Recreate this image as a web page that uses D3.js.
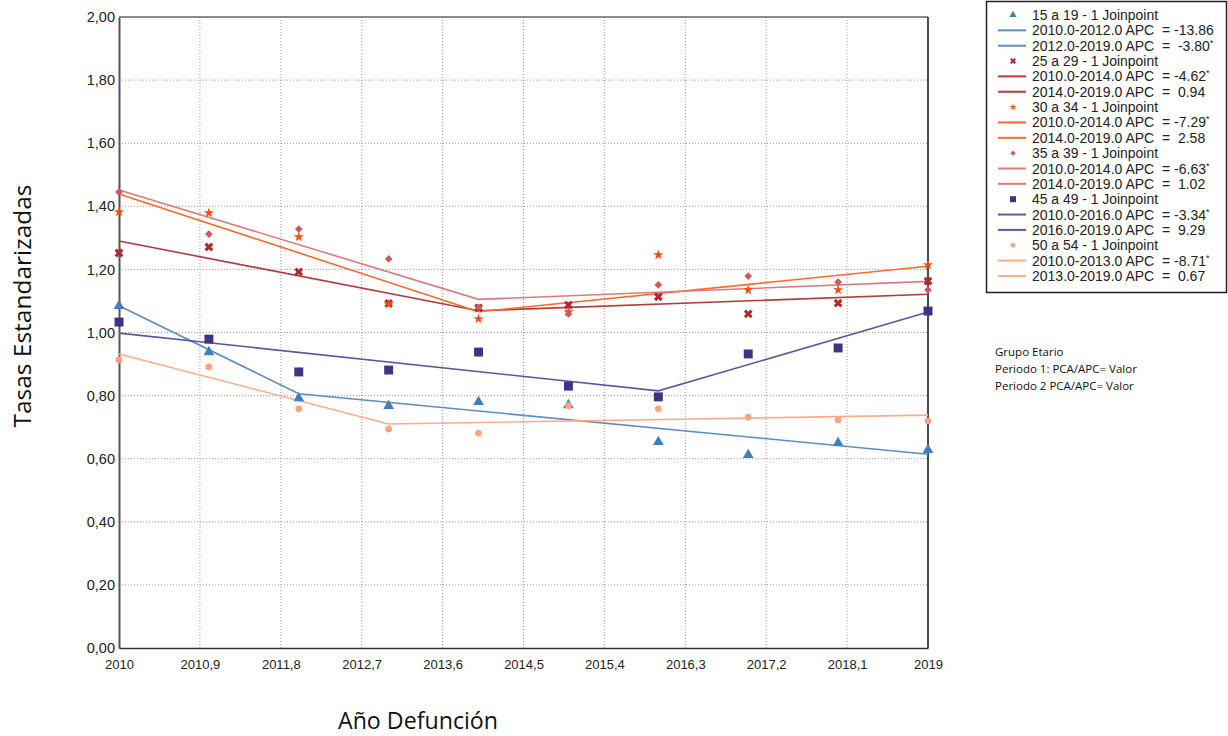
<!DOCTYPE html>
<html>
<head>
<meta charset="utf-8">
<script src="https://cdn.jsdelivr.net/npm/d3@7"></script>
<style>
  html, body { margin: 0; padding: 0; background: #fff; }
  svg { display: block; }
</style>
</head>
<body>
<svg id="chart" width="1228" height="736"></svg>
<script>
// Observed standardized rates by year of death, per age group
const years = [2010, 2011, 2012, 2013, 2014, 2015, 2016, 2017, 2018, 2019];
const rate15_19 = [1.084, 0.938, 0.792, 0.767, 0.780, 0.770, 0.653, 0.612, 0.650, 0.628];
const rate25_29 = [1.252, 1.271, 1.192, 1.092, 1.078, 1.087, 1.113, 1.059, 1.093, 1.163];
const rate30_34 = [1.382, 1.379, 1.303, 1.090, 1.043, 1.065, 1.246, 1.135, 1.135, 1.214];
const rate35_39 = [1.445, 1.312, 1.328, 1.233, 1.080, 1.059, 1.151, 1.179, 1.160, 1.135];
const rate45_49 = [1.033, 0.979, 0.875, 0.881, 0.938, 0.830, 0.796, 0.932, 0.951, 1.068];
const rate50_54 = [0.913, 0.891, 0.758, 0.694, 0.681, 0.768, 0.758, 0.732, 0.723, 0.720];

// Joinpoint model: start, joinpoint and end years with fitted rates
const join15_19 = [2010, 2012, 2019], fit15_19 = [1.085, 0.806, 0.614];
const join25_29 = [2010, 2014, 2019], fit25_29 = [1.290, 1.069, 1.121];
const join30_34 = [2010, 2014, 2019], fit30_34 = [1.439, 1.066, 1.210];
const join35_39 = [2010, 2014, 2019], fit35_39 = [1.452, 1.105, 1.162];
const join45_49 = [2010, 2016, 2019], fit45_49 = [0.998, 0.815, 1.065];
const join50_54 = [2010, 2013, 2019], fit50_54 = [0.932, 0.710, 0.738];

const groupNames = ["15 a 19", "25 a 29", "30 a 34", "35 a 39", "45 a 49", "50 a 54"];
// Segment APC text and whether it is flagged as significant
const apc15_19 = [["2010.0-2012.0 APC  = -13.86", false], ["2012.0-2019.0 APC  =  -3.80", true]];
const apc25_29 = [["2010.0-2014.0 APC  = -4.62", true], ["2014.0-2019.0 APC  =  0.94", false]];
const apc30_34 = [["2010.0-2014.0 APC  = -7.29", true], ["2014.0-2019.0 APC  =  2.58", false]];
const apc35_39 = [["2010.0-2014.0 APC  = -6.63", true], ["2014.0-2019.0 APC  =  1.02", false]];
const apc45_49 = [["2010.0-2016.0 APC  = -3.34", true], ["2016.0-2019.0 APC  =  9.29", false]];
const apc50_54 = [["2010.0-2013.0 APC  = -8.71", true], ["2013.0-2019.0 APC  =  0.67", false]];

const xTicks = [2010, 2010.9, 2011.8, 2012.7, 2013.6, 2014.5, 2015.4, 2016.3, 2017.2, 2018.1, 2019];
const yTicks = [0, 0.2, 0.4, 0.6, 0.8, 1.0, 1.2, 1.4, 1.6, 1.8, 2.0];

const series = [
  { name: groupNames[0], rates: rate15_19, join: join15_19, fit: fit15_19, apc: apc15_19,
    color: "#3f7fbf", line: "#5b8fc4", symbol: d3.symbolTriangle, size: 50, rot: 0 },
  { name: groupNames[1], rates: rate25_29, join: join25_29, fit: fit25_29, apc: apc25_29,
    color: "#b0282c", line: "#b43a3c", symbol: d3.symbolCross, size: 48, rot: 45 },
  { name: groupNames[2], rates: rate30_34, join: join30_34, fit: fit30_34, apc: apc30_34,
    color: "#ff4a10", line: "#ff6a2a", symbol: d3.symbolStar, size: 32, rot: 0 },
  { name: groupNames[3], rates: rate35_39, join: join35_39, fit: fit35_39, apc: apc35_39,
    color: "#cc5a5c", line: "#d87c7e", symbol: d3.symbolSquare, size: 30, rot: 45 },
  { name: groupNames[4], rates: rate45_49, join: join45_49, fit: fit45_49, apc: apc45_49,
    color: "#3c3484", line: "#5e56a2", symbol: d3.symbolSquare, size: 80, rot: 0 },
  { name: groupNames[5], rates: rate50_54, join: join50_54, fit: fit50_54, apc: apc50_54,
    color: "#ffa283", line: "#ffab8e", symbol: d3.symbolCircle, size: 36, rot: 0 }
];

const svg = d3.select("#chart");
const x = d3.scaleLinear().domain([2010, 2019]).range([119, 928]);
const y = d3.scaleLinear().domain([0, 2]).range([648, 17]);
const fmtComma = (v, digits) => d3.format("." + digits + "f")(v).replace(".", ",");

// Grid lines
const grid = svg.append("g");
grid.selectAll("line.gx").data(xTicks.slice(1, -1)).join("line")
  .attr("x1", d => x(d)).attr("x2", d => x(d))
  .attr("y1", y(2)).attr("y2", y(0))
  .attr("stroke", "#9a9a9a").attr("stroke-width", 1).attr("stroke-dasharray", "1,2");
grid.selectAll("line.gy").data(yTicks.slice(1, -1)).join("line")
  .attr("x1", x(2010)).attr("x2", x(2019))
  .attr("y1", d => y(d)).attr("y2", d => y(d))
  .attr("stroke", "#9a9a9a").attr("stroke-width", 1).attr("stroke-dasharray", "1,2");

// Frame
svg.append("line").attr("x1", x(2010)).attr("x2", x(2019)).attr("y1", y(2)).attr("y2", y(2))
  .attr("stroke", "#666").attr("stroke-width", 1.5);
svg.append("line").attr("x1", x(2019)).attr("x2", x(2019)).attr("y1", y(2)).attr("y2", y(0))
  .attr("stroke", "#111").attr("stroke-width", 1.5);

// Axes
const yAxis = d3.axisLeft(y).tickValues(yTicks).tickSize(0).tickPadding(4)
  .tickFormat(d => fmtComma(d, 2));
const gy = svg.append("g").attr("transform", `translate(${x(2010)},0)`).call(yAxis);
gy.select(".domain").attr("stroke", "#555").attr("stroke-width", 2);
gy.selectAll("text").attr("font-family", "Liberation Sans, Arial, sans-serif")
  .attr("font-size", 14.5).attr("fill", "#222");

const xAxis = d3.axisBottom(x).tickValues(xTicks).tickSize(0)
  .tickFormat(d => Number.isInteger(d) ? String(d) : fmtComma(d, 1));
const gx = svg.append("g").attr("transform", `translate(0,${y(0)})`).call(xAxis);
gx.select(".domain").attr("stroke", "#333").attr("stroke-width", 1.5);
gx.selectAll("text").attr("font-family", "Liberation Sans, Arial, sans-serif")
  .attr("font-size", 13).attr("fill", "#222").attr("dy", "1.35em");

// Axis titles
svg.append("text").attr("transform", `translate(31,306) rotate(-90)`)
  .attr("text-anchor", "middle").attr("font-family", "Open Sans, sans-serif")
  .attr("font-size", 23).attr("fill", "#111")
  .attr("textLength", 243).attr("lengthAdjust", "spacingAndGlyphs")
  .text("Tasas Estandarizadas");
svg.append("text").attr("x", 418).attr("y", 729)
  .attr("text-anchor", "middle").attr("font-family", "Open Sans, sans-serif")
  .attr("font-size", 23).attr("fill", "#111")
  .attr("textLength", 160).attr("lengthAdjust", "spacingAndGlyphs")
  .text("Año Defunción");

// Fitted joinpoint segments
const lineGen = d3.line().x(d => x(d[0])).y(d => y(d[1]));
const linesG = svg.append("g");
series.forEach(s => {
  linesG.append("path").datum(d3.zip(s.join, s.fit))
    .attr("d", lineGen).attr("fill", "none")
    .attr("stroke", s.line).attr("stroke-width", 1.6);
});

// Observed points
const pointsG = svg.append("g");
series.forEach(s => {
  const sym = d3.symbol().type(s.symbol).size(s.size);
  pointsG.append("g").selectAll("path").data(d3.zip(years, s.rates)).join("path")
    .attr("d", sym)
    .attr("transform", d => `translate(${x(d[0])},${y(d[1])}) rotate(${s.rot})`)
    .attr("fill", s.color);
});

// Legend
const lg = svg.append("g");
lg.append("rect").attr("x", 986.5).attr("y", 1.5).attr("width", 240).attr("height", 291)
  .attr("fill", "#fff").attr("stroke", "#222").attr("stroke-width", 1.5);
const rowH = 15.35;
let row = 0;
const legendFont = "Liberation Sans, Arial, sans-serif";
series.forEach(s => {
  const cy = 15 + row * rowH;
  const sym = d3.symbol().type(s.symbol).size(s.size * 0.45);
  lg.append("path").attr("d", sym)
    .attr("transform", `translate(1013,${cy}) rotate(${s.rot})`).attr("fill", s.color);
  lg.append("text").attr("x", 1032).attr("y", cy + 5)
    .attr("font-family", legendFont).attr("font-size", 14).attr("fill", "#222")
    .attr("textLength", 126).attr("lengthAdjust", "spacingAndGlyphs")
    .text(`${s.name} - 1 Joinpoint`);
  row++;
  s.apc.forEach(a => {
    const ly = 15 + row * rowH;
    lg.append("line").attr("x1", 998).attr("x2", 1026).attr("y1", ly).attr("y2", ly)
      .attr("stroke", s.line).attr("stroke-width", 2);
    const t = lg.append("text").attr("x", 1032).attr("y", ly + 5)
      .attr("font-family", legendFont).attr("font-size", 14).attr("fill", "#222")
      .attr("xml:space", "preserve");
    t.append("tspan").text(a[0]);
    if (a[1]) t.append("tspan").attr("font-size", 9).attr("dy", -5).text("*");
    row++;
  });
});

// Reading guide for the legend entries
const guide = ["Grupo Etario", "Periodo 1: PCA/APC= Valor", "Periodo 2 PCA/APC= Valor"];
svg.append("g").selectAll("text").data(guide).join("text")
  .attr("x", 995).attr("y", (d, i) => 356 + i * 17)
  .attr("font-family", "Open Sans, sans-serif").attr("font-size", 11.5).attr("fill", "#111")
  .text(d => d);
</script>
</body>
</html>
